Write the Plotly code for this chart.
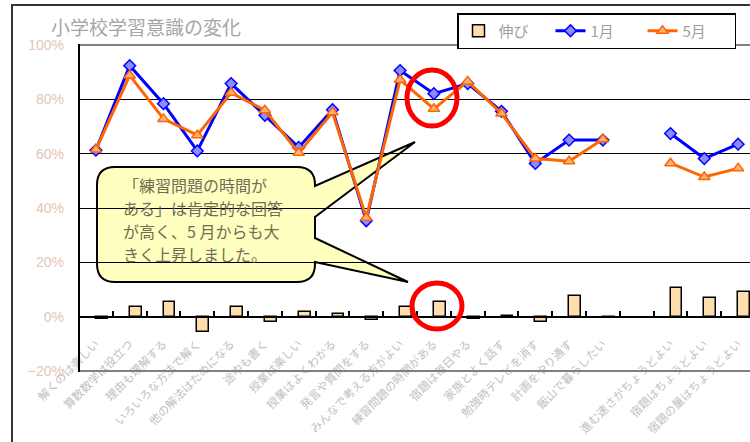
import plotly.graph_objects as go

# --- data -------------------------------------------------------------
categories = [
    "解くのは楽しい", "算数数学は役立つ", "理由も理解する", "いろいろな方法で解く",
    "他の解法はためになる", "途中も書く", "授業は楽しい", "授業はよくわかる",
    "発言や質問をする", "みんなで考える方がよい", "練習問題の時間がある", "宿題は毎日やる",
    "家族とよく話す", "勉強時テレビを消す", "計画をやり通す", "飯山で暮らしたい",
    " ", "進む速さがちょうどよい", "宿題はちょうどよい", "宿題の量はちょうどよい",
]
jan = [61.3, 92.4, 78.4, 61.0, 85.8, 74.1, 62.3, 76.2, 35.3, 90.6,
       82.1, 85.8, 75.6, 56.4, 65.0, 65.0, None, 67.4, 58.2, 63.5]
may = [61.5, 88.8, 72.8, 66.8, 82.4, 76.0, 60.3, 75.2, 36.4, 87.2,
       76.5, 86.6, 74.8, 58.2, 57.2, 65.3, None, 56.5, 51.4, 54.6]
growth = [-0.7, 3.5, 5.5, -5.7, 3.4, -1.8, 1.6, 1.0, -1.2, 3.4,
          5.5, -0.8, 0.4, -1.8, 7.7, -0.5, None, 10.6, 6.7, 8.9]
y_ticks = [-20, 0, 20, 40, 60, 80, 100]
y_tick_text = ["−20%", "0%", "20%", "40%", "60%", "80%", "100%"]

title_text = "小学校学習意識の変化"
note_lines = ["「練習問題の時間が", "ある」は肯定的な回答", "が高く、5 月からも大", "きく上昇しました。"]

# --- figure geometry (pixels) ------------------------------------------
W, H = 750, 442
L, R, T, B = 79, 0, 45, 71
PW, PH = W - L - R, H - T - B


def px(x):
    return (x - L) / PW


def py(y):
    return (H - B - y) / PH


JP = "Noto Sans CJK JP"
SANS = "Liberation Sans"

fig = go.Figure()

fig.add_trace(go.Bar(
    x=categories, y=growth, name="伸び",
    width=0.35, offset=0,
    marker=dict(color="#FFDEAD", line=dict(color="black", width=1.5)),
))
fig.add_trace(go.Scatter(
    x=categories, y=jan, name="1月", mode="lines+markers",
    line=dict(color="#0000FF", width=3),
    marker=dict(symbol="diamond", size=9, color="#8C8CFF",
                line=dict(color="#0000FF", width=1.5)),
))
fig.add_trace(go.Scatter(
    x=categories, y=may, name="5月", mode="lines+markers",
    line=dict(color="#FF6600", width=3),
    marker=dict(symbol="triangle-up", size=10, color="#FFB27A",
                line=dict(color="#FF6600", width=1.5)),
))

# --- callout with two pointers --------------------------------------------
pts = [
    ("M", 115, 167), ("L", 297, 167), ("Q", 315, 167, 315, 185),
    ("L", 315, 186), ("L", 415, 142), ("L", 315, 217),
    ("L", 315, 238), ("L", 408, 282), ("L", 315, 262),
    ("L", 315, 264), ("Q", 315, 282, 297, 282),
    ("L", 115, 282), ("Q", 97, 282, 97, 264),
    ("L", 97, 185), ("Q", 97, 167, 115, 167),
]
path = ""
for p in pts:
    cmd, coords = p[0], p[1:]
    xy = []
    for i in range(0, len(coords), 2):
        xy.append(f"{px(coords[i]):.5f},{py(coords[i + 1]):.5f}")
    path += cmd + " " + " ".join(xy) + " "
path += "Z"

shapes = [
    dict(type="path", path=path, xref="paper", yref="paper", layer="below",
         fillcolor="#FFFFC0", line=dict(color="black", width=2)),
    # plot frame lines
    dict(type="line", xref="paper", yref="paper", x0=px(79), x1=px(752),
         y0=py(45), y1=py(45), line=dict(color="#808080", width=2)),
    dict(type="line", xref="paper", yref="paper", x0=px(79), x1=px(752),
         y0=py(371), y1=py(371), line=dict(color="#808080", width=2)),
    dict(type="line", xref="paper", yref="paper", x0=px(79), x1=px(79),
         y0=py(44), y1=py(372), line=dict(color="black", width=2)),
    # chart frame
    dict(type="line", xref="paper", yref="paper", x0=px(12), x1=px(752),
         y0=py(5), y1=py(5), line=dict(color="#333333", width=2)),
    dict(type="line", xref="paper", yref="paper", x0=px(12), x1=px(12),
         y0=py(4), y1=py(445), line=dict(color="#333333", width=2)),
    # highlight circles
    dict(type="circle", xref="paper", yref="paper",
         x0=px(407), x1=px(457), y0=py(70), y1=py(126),
         line=dict(color="#FF0000", width=5)),
    dict(type="circle", xref="paper", yref="paper",
         x0=px(412), x1=px(462), y0=py(283), y1=py(329),
         line=dict(color="#FF0000", width=5)),
]

# callout text, one annotation per line
annotations = []
for i, line in enumerate(note_lines):
    annotations.append(dict(
        text=line, xref="paper", yref="paper",
        x=px(121), y=py(185 + 23 * i), xanchor="left", yanchor="middle",
        showarrow=False, font=dict(family=JP, size=16, color="#6E6E55")))

fig.update_layout(
    width=W, height=H,
    margin=dict(l=L, r=R, t=T, b=B, autoexpand=False),
    paper_bgcolor="white", plot_bgcolor="white",
    title=dict(text=title_text, x=51 / W, xanchor="left", xref="container",
               y=1 - 28 / H, yanchor="middle", yref="container",
               font=dict(family=JP, size=19, color="#A6A6A6")),
    showlegend=True,
    legend=dict(orientation="h", xref="container", yref="container",
                x=457 / W, y=1 - 13 / H, xanchor="left", yanchor="top",
                bgcolor="white", bordercolor="black", borderwidth=1.5,
                font=dict(family=JP, size=15, color="#A0A0A0"),
                entrywidth=47, traceorder="normal"),
    bargap=0,
    shapes=shapes,
    annotations=annotations,
    xaxis=dict(
        type="category", categoryorder="array", categoryarray=categories,
        range=[-0.5, -0.5 + PW / 33.8],
        anchor="free", position=20 / 120,
        showline=True, linecolor="black", linewidth=2,
        ticks="inside", ticklen=5, tickwidth=1.5, tickcolor="black",
        tickson="boundaries", tickangle=-45, ticklabelstandoff=15,
        tickfont=dict(family=JP, size=11.5, color="#BFBFBF"),
        showgrid=False, zeroline=False, automargin=False,
    ),
    yaxis=dict(
        range=[-20, 100], tickmode="array", tickvals=y_ticks, ticktext=y_tick_text,
        showgrid=True, gridcolor="black", gridwidth=1,
        zeroline=False, showline=False, ticks="",
        ticklabelstandoff=14,
        tickfont=dict(family=SANS, size=14, color="#E5C5B5"),
        automargin=False,
    ),
)

fig.write_html("out.html")
